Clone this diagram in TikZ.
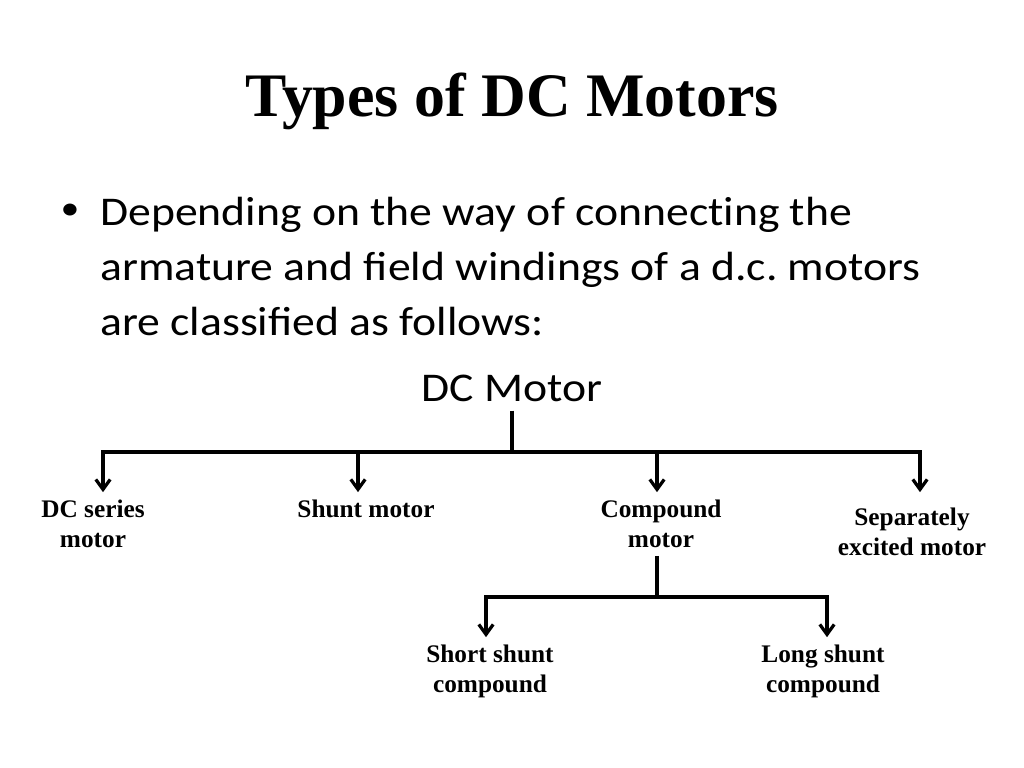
\documentclass[tikz,border=0pt]{standalone}
\usepackage{fontspec}
\setmainfont{Liberation Serif}
\newfontfamily\bodyfont{Carlito}[FakeStretch=1.12]
\usetikzlibrary{arrows.meta}
\frenchspacing

\tikzset{
  kind/.style={font=\bfseries\fontsize{18}{21.3}\selectfont,align=center,inner sep=0pt,anchor=base},
  arr/.style={line width=2.3pt,-{Straight Barb[length=2.5mm,width=3.6mm,line width=2.3pt]},shorten >=5pt},
  bar/.style={line width=2.3pt}
}

\begin{document}
\begin{tikzpicture}[x=0.025cm,y=-0.025cm]

\useasboundingbox (0,0) rectangle (1024,768);

\node (title) at (512,117) [anchor=base,inner sep=0pt,font=\bfseries\fontsize{44}{50}\selectfont] {Types of DC Motors};

\node (dot) at (70,212) [inner sep=0pt,font=\bodyfont\fontsize{24}{39}\selectfont] {•};
\node (text) at (100,335) [anchor=base west,align=left,inner sep=0pt,font=\bodyfont\fontsize{29}{39}\selectfont]
  {Depending on the way of connect\kern0pt ing the\\armature and field windings of a d.c. motors\\are classified as follows:};

\node (dcm) at (512,401) [anchor=base,inner sep=0pt,font=\bodyfont\fontsize{29}{39}\selectfont] {DC Motor};

\node (series) at (93,547) [kind] {DC series\\motor};
\node (shunt) at (366,517) [kind] {Shunt motor};
\node (comp) at (661,547) [kind] {Compound\\motor};
\node (sep) at (912,555) [kind] {Separately\\excited motor};
\node (short) at (490,692) [kind] {Short shunt\\compound};
\node (long) at (823,692) [kind] {Long shunt\\compound};

\coordinate (bus) at (512,452);
\coordinate (bus2) at (657,597);

\draw[bar] (dcm.south) ++(0,9) -- (bus);
\draw[arr] (bus) -| ([xshift=10*0.025cm]series.north);
\draw[arr] (bus) -| ([xshift=-8*0.025cm]shunt.north);
\draw[arr] (bus) -| ([xshift=-4*0.025cm]comp.north);
\draw[arr,shorten >=10.7pt] (bus) -| ([xshift=8*0.025cm]sep.north);

\draw[bar] ([xshift=-4*0.025cm,yshift=-6pt]comp.south) -- (bus2);
\draw[arr] (bus2) -| ([xshift=-4*0.025cm]short.north);
\draw[arr] (bus2) -| ([xshift=4*0.025cm]long.north);

\end{tikzpicture}
\end{document}
